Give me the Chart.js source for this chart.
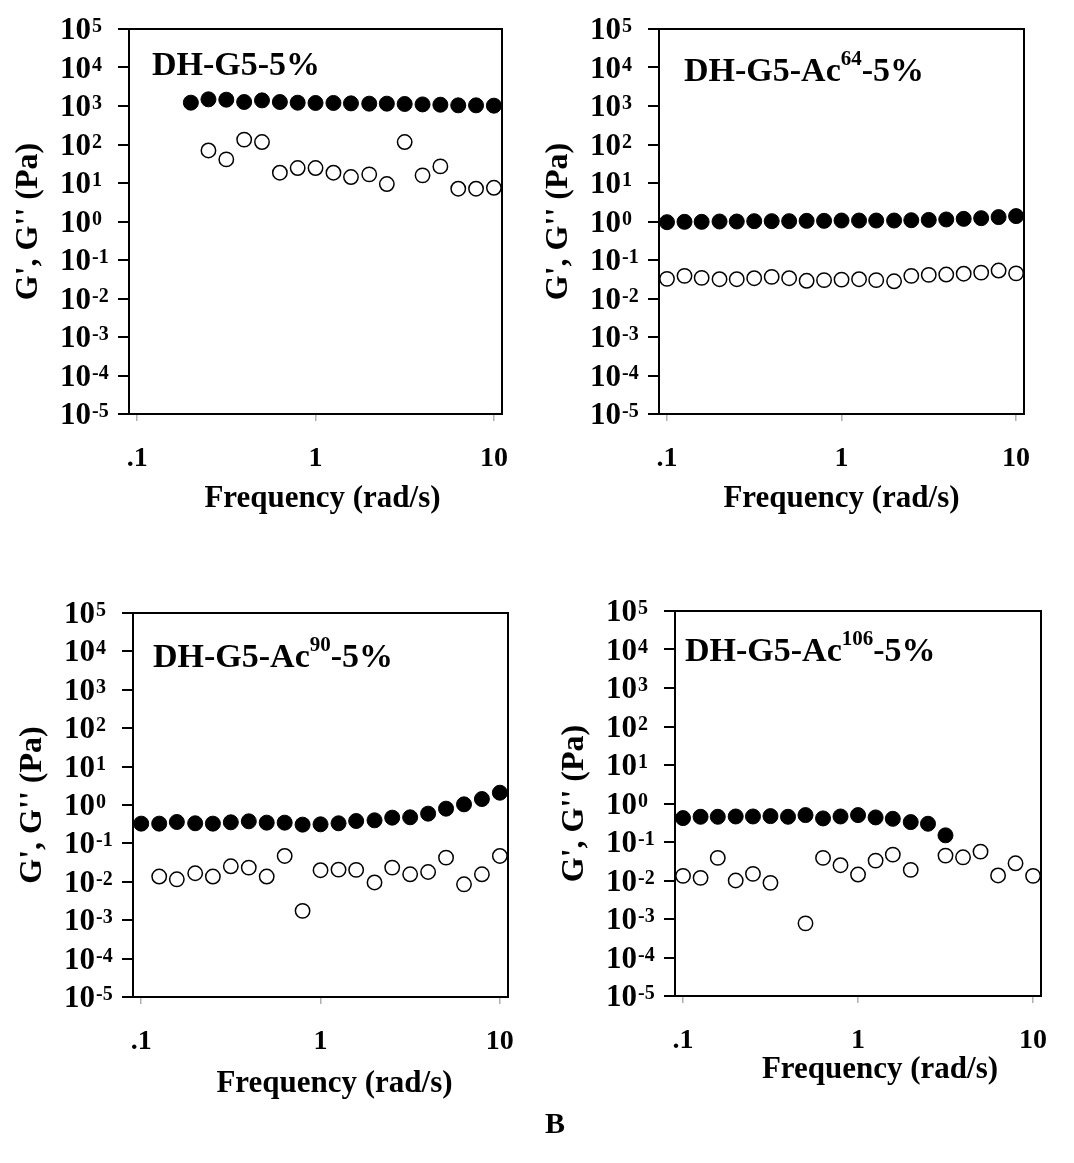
<!DOCTYPE html>
<html>
<head>
<meta charset="utf-8">
<script src="https://cdn.jsdelivr.net/npm/chart.js@4.4.1/dist/chart.umd.min.js"></script>
<style>
    body { margin: 0; background: #fff; }
    #page { position: relative; width: 1074px; height: 1163px; background: #fff; }
    canvas { position: absolute; }
    #fig-label {
        position: absolute; left: 535px; top: 1106px; width: 40px; text-align: center;
        font: bold 30px 'Liberation Serif', serif; color: #000;
    }
</style>
</head>
<body>
<div id="page">
    <canvas id="panel-1"></canvas>
    <canvas id="panel-2"></canvas>
    <canvas id="panel-3"></canvas>
    <canvas id="panel-4"></canvas>
    <div id="fig-label">B</div>
</div>
<script>
// frequency sweep, rad/s (10 points per decade)
const freq = [0.1, 0.126, 0.158, 0.2, 0.251, 0.316, 0.398, 0.501, 0.631, 0.794,
    1, 1.26, 1.58, 2, 2.51, 3.16, 3.98, 5.01, 6.31, 7.94, 10];

// G' (filled) and G'' (open), Pa -- null where no point is plotted
const g1Storage = [null, null, null, 1220, 1490, 1460, 1270, 1400, 1270, 1220,
    1200, 1200, 1170, 1150, 1150, 1130, 1100, 1080, 1040, 1040, 1020];
const g1Loss = [null, null, null, null, 70, 41, 134, 116, 18.5, 24.5,
    24.5, 18.5, 14.3, 16.8, 9.4, 116, 15.8, 27, 7.1, 7.1, 7.5];

const g2Storage = [0.96, 0.98, 0.98, 1.0, 1.0, 1.02, 1.02, 1.02, 1.04, 1.04,
    1.06, 1.06, 1.06, 1.06, 1.08, 1.10, 1.13, 1.17, 1.22, 1.30, 1.38];
const g2Loss = [0.0324, 0.0388, 0.0344, 0.0317, 0.0317, 0.0337, 0.0365, 0.0337, 0.0288, 0.030,
    0.031, 0.0317, 0.030, 0.028, 0.0388, 0.041, 0.042, 0.044, 0.047, 0.0533, 0.045];

const g3Storage = [0.327, 0.327, 0.361, 0.334, 0.327, 0.354, 0.376, 0.347, 0.347, 0.308,
    0.314, 0.334, 0.383, 0.399, 0.468, 0.478, 0.595, 0.803, 1.04, 1.43, 2.09];
const g3Loss = [null, 0.0137, 0.0116, 0.0167, 0.0137, 0.0254, 0.0234, 0.0137, 0.047, 0.00175,
    0.020, 0.0207, 0.0204, 0.0096, 0.0234, 0.0157, 0.018, 0.0426, 0.0086, 0.0157, 0.047];

const g4Storage = [0.418, 0.452, 0.452, 0.46, 0.46, 0.47, 0.452, 0.50, 0.41, 0.46,
    0.50, 0.435, 0.40, 0.329, 0.298, 0.149, null, null, null, null, null];
const g4Loss = [0.0132, 0.0117, 0.0386, 0.010, 0.0149, 0.0087, null, 0.00077, 0.0386, 0.0249,
    0.0143, 0.0329, 0.047, 0.0189, null, 0.0443, 0.040, 0.0562, 0.0135, 0.028, 0.0132];

// axis ticks
const xTicks = [0.1, 1, 10];
const xTickLabels = ['.1', '1', '10'];
const yExponents = [5, 4, 3, 2, 1, 0, -1, -2, -3, -4, -5];

const FONT = "'Liberation Serif', 'Times New Roman', serif";
const AXIS_W = 129;   // room left of the plot box
const PAD_TOP = 20;
const PAD_RIGHT = 30;
const AXIS_H = 110;   // room under the plot box

function points(values) {
    return freq
        .map((f, i) => ({ x: f, y: values[i] }))
        .filter(p => p.y !== null);
}

// box, y tick labels, panel label and x title
const decorations = {
    id: 'decorations',
    afterDraw(chart, args, opts) {
        const ctx = chart.ctx;
        const a = chart.chartArea;
        const ys = chart.scales.y;
        ctx.save();
        ctx.fillStyle = '#000';
        ctx.strokeStyle = '#000';
        ctx.lineWidth = 2;
        ctx.strokeRect(a.left, a.top, a.right - a.left, a.bottom - a.top);

        // 10^n labels
        ctx.textAlign = 'left';
        ctx.textBaseline = 'alphabetic';
        yExponents.forEach(e => {
            const py = ys.getPixelForValue(Math.pow(10, e));
            const x0 = a.left - 69;
            ctx.font = 'bold 31px ' + FONT;
            ctx.fillText('10', x0, py + 10);
            const w = ctx.measureText('10').width;
            ctx.font = 'bold 20px ' + FONT;
            ctx.fillText(e < 0 ? '-' + (-e) : String(e), x0 + w + 1, py + 3);
        });

        // panel label with optional superscript
        let lx = a.left + opts.labelDx;
        const ly = a.top + opts.labelDy;
        ctx.font = 'bold 34px ' + FONT;
        ctx.fillText(opts.label[0], lx, ly);
        lx += ctx.measureText(opts.label[0]).width;
        if (opts.label[1]) {
            ctx.font = 'bold 21px ' + FONT;
            ctx.fillText(opts.label[1], lx, ly - 16);
            lx += ctx.measureText(opts.label[1]).width;
            ctx.font = 'bold 34px ' + FONT;
            ctx.fillText(opts.label[2], lx, ly);
        }

        // x title
        ctx.font = 'bold 31px ' + FONT;
        ctx.textAlign = 'center';
        ctx.fillText('Frequency (rad/s)', (a.left + a.right) / 2 + opts.titleDx, a.bottom + opts.titleDy);
        ctx.restore();
    }
};

function makePanel(id, box, storage, loss, deco) {
    const canvas = document.getElementById(id);
    canvas.width = (box.r - box.l) + AXIS_W + PAD_RIGHT;
    canvas.height = (box.b - box.t) + PAD_TOP + AXIS_H;
    canvas.style.left = (box.l - AXIS_W) + 'px';
    canvas.style.top = (box.t - PAD_TOP) + 'px';

    new Chart(canvas.getContext('2d'), {
        type: 'scatter',
        data: {
            datasets: [{
                label: "G'",
                data: points(storage),
                pointRadius: 7.5,
                pointBorderWidth: 1,
                pointBackgroundColor: '#000',
                pointBorderColor: '#000',
                showLine: false
            }, {
                label: "G''",
                data: points(loss),
                pointRadius: 7.2,
                pointBorderWidth: 1.5,
                pointBackgroundColor: '#fff',
                pointBorderColor: '#000',
                showLine: false
            }]
        },
        options: {
            responsive: false,
            animation: false,
            devicePixelRatio: 1,
            clip: false,
            layout: { padding: { top: PAD_TOP, right: PAD_RIGHT, left: 0, bottom: 0 } },
            plugins: {
                legend: { display: false },
                tooltip: { enabled: false },
                decorations: deco
            },
            scales: {
                x: {
                    type: 'logarithmic',
                    min: 0.09,
                    max: 11.1,
                    afterBuildTicks: s => { s.ticks = xTicks.map(v => ({ value: v })); },
                    afterFit: s => { s.height = AXIS_H; },
                    ticks: {
                        callback: (v) => xTickLabels[xTicks.indexOf(v)] ?? '',
                        font: { family: FONT, size: 28, weight: 'bold' },
                        color: '#000',
                        padding: 21,
                        maxRotation: 0,
                        autoSkip: false
                    },
                    grid: { drawOnChartArea: false, tickLength: 7, color: '#b0b0b0', lineWidth: 1.5 },
                    border: { display: false }
                },
                y: {
                    type: 'logarithmic',
                    min: 1e-5,
                    max: 1e5,
                    afterBuildTicks: s => { s.ticks = yExponents.map(e => ({ value: Math.pow(10, e) })); },
                    afterFit: s => { s.width = AXIS_W; },
                    ticks: { callback: () => '' },
                    grid: { drawOnChartArea: false, tickLength: 11, color: '#000', lineWidth: 2 },
                    border: { display: false },
                    title: {
                        display: true,
                        text: "G', G'' (Pa)",
                        font: { family: FONT, size: 32, weight: 'bold' },
                        color: '#000',
                        padding: { top: 10, bottom: 0 }
                    }
                }
            }
        },
        plugins: [decorations]
    });
}

makePanel('panel-1', { l: 129, t: 29, r: 502, b: 414 }, g1Storage, g1Loss,
    { label: ['DH-G5-5%'], labelDx: 23, labelDy: 46, titleDx: 7, titleDy: 93 });
makePanel('panel-2', { l: 659, t: 29, r: 1024, b: 414 }, g2Storage, g2Loss,
    { label: ['DH-G5-Ac', '64', '-5%'], labelDx: 25, labelDy: 52, titleDx: 0, titleDy: 93 });
makePanel('panel-3', { l: 133, t: 613, r: 508, b: 997 }, g3Storage, g3Loss,
    { label: ['DH-G5-Ac', '90', '-5%'], labelDx: 20, labelDy: 54, titleDx: 14, titleDy: 95 });
makePanel('panel-4', { l: 675, t: 611, r: 1041, b: 996 }, g4Storage, g4Loss,
    { label: ['DH-G5-Ac', '106', '-5%'], labelDx: 10, labelDy: 50, titleDx: 22, titleDy: 82 });
</script>
</body>
</html>
